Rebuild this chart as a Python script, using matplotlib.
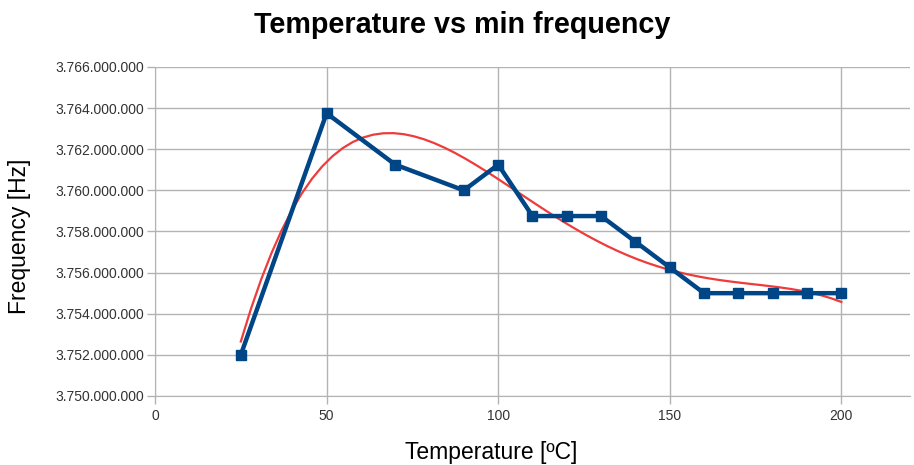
import numpy as np
import matplotlib
matplotlib.use("Agg")
import matplotlib.pyplot as plt
from matplotlib.ticker import FuncFormatter, MultipleLocator

temperature = [25, 50, 70, 90, 100, 110, 120, 130, 140, 150, 160, 170, 180, 190, 200]
frequency = [3752.0e6, 3763.75e6, 3761.25e6, 3760.0e6, 3761.25e6, 3758.75e6, 3758.75e6,
             3758.75e6, 3757.5e6, 3756.25e6, 3755.0e6, 3755.0e6, 3755.0e6, 3755.0e6, 3755.0e6]
title = "Temperature vs min frequency"
xlabel = "Temperature [ºC]"
ylabel = "Frequency [Hz]"

plt.rcParams['font.family'] = ['Liberation Sans', 'DejaVu Sans']

fig = plt.figure(figsize=(9.14, 4.65), dpi=100)
ax = fig.add_axes([0.1696, 0.1484, 0.8260, 0.7076])

t = np.array(temperature, dtype=float)
f = np.array(frequency, dtype=float)
coef = np.polyfit(t, f - 3758e6, 4)
tt = np.linspace(t.min(), t.max(), 60)
ax.plot(tt, np.polyval(coef, tt) + 3758e6, color='#ee3b3b', lw=1.6, zorder=3)
ax.plot(t, f, color='#004586', lw=3.2, marker='s', markersize=7.5, zorder=4)

ax.set_xlim(0, 220)
ax.set_ylim(3750e6, 3766e6)
ax.xaxis.set_major_locator(MultipleLocator(50))
ax.yaxis.set_major_locator(MultipleLocator(2e6))
ax.yaxis.set_major_formatter(FuncFormatter(lambda v, p: f"{int(round(v)):,}".replace(",", ".")))
ax.grid(True, color='#b3b3b3', lw=1)
ax.set_axisbelow(True)
for s in ['top', 'right']:
    ax.spines[s].set_visible(False)
for s in ['left', 'bottom']:
    ax.spines[s].set_color('#b3b3b3')
ax.tick_params(axis='both', colors='#b3b3b3', labelcolor='#333333', labelsize=10, length=6, width=1)
ax.tick_params(axis='y', pad=1.5)

fig.text(462 / 914, 1 - 25 / 465, title, fontsize=20.7, fontweight='bold', ha='center', va='center')
fig.text(491 / 914, 1 - 452 / 465, xlabel, fontsize=16.5, ha='center', va='center')
fig.text(20 / 914, 1 - 236 / 465, ylabel, fontsize=16.5, ha='center', va='center', rotation=90)

fig.savefig("out.png", dpi=100)
